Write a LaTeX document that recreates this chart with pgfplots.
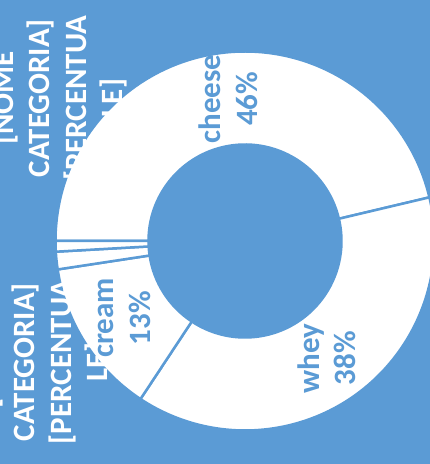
\documentclass[border=0pt]{standalone}
\usepackage{pgfplots}
\usepackage{pgfplotstable}
\pgfplotsset{compat=1.18}
\usepackage{fontspec}
\setmainfont{Carlito}
\definecolor{bg}{HTML}{5B9BD5}

\pgfplotstableread{
name value
cheese 46.3
whey 38.0
cream 13.3
otherA 1.5
otherB 0.9
}\piedata

\begin{document}
\begin{tikzpicture}
\tikzset{
  dlabel/.style={text=bg, align=center, rotate=90, inner sep=0pt,
    font=\fontsize{31}{36.5}\selectfont\bfseries},
  olabel/.style={text=white, align=center, rotate=90, inner sep=0pt,
    font=\fontsize{31}{36.5}\selectfont\bfseries},
}
\begin{axis}[
  scale only axis, width=430pt, height=464pt,
  xmin=0, xmax=430, ymin=0, ymax=464,
  axis lines=none, ticks=none,
  axis background/.style={fill=bg},
  clip=true, clip mode=global,
]
\coordinate (sw) at (rel axis cs:0,0);
\coordinate (ne) at (rel axis cs:1,1);
\def\cx{245}\def\cy{223}\def\R{189.5}\def\r{96.5}
\def\start{180}
\pgfplotstablegetrowsof{\piedata}
\pgfmathtruncatemacro{\n}{\pgfplotsretval-1}
\pgfplotsforeachungrouped \i in {0,...,\n}{%
  \pgfplotstablegetelem{\i}{value}\of\piedata
  \pgfmathsetmacro{\v}{\pgfplotsretval}%
  \pgfmathsetmacro{\en}{\start-3.6*\v}%
  \pgfmathsetmacro{\xa}{\cx+\R*cos(\start)}%
  \pgfmathsetmacro{\ya}{\cy+\R*sin(\start)}%
  \pgfmathsetmacro{\xb}{\cx+\r*cos(\en)}%
  \pgfmathsetmacro{\yb}{\cy+\r*sin(\en)}%
  \edef\cmd{\noexpand\fill[white, draw=bg, line width=2.5pt, line join=round]
    (axis cs:\xa,\ya) arc[start angle=\start, end angle=\en, radius=\R pt]
    -- (axis cs:\xb,\yb) arc[start angle=\en, end angle=\start, radius=\r pt] -- cycle;}%
  \cmd
  \let\start\en
}
% outside placeholder labels
\node[olabel] at (axis cs:59,366) {{[}NOME\\CATEGORIA{]}\\{[}PERCENTUA\\LE{]}};
\node[olabel] at (axis cs:44,102) {{[}NOME\\CATEGORIA{]}\\{[}PERCENTUA\\LE{]}};
% data labels
\def\start{180}
\pgfplotsforeachungrouped \i in {0,...,\n}{%
  \pgfplotstablegetelem{\i}{value}\of\piedata
  \pgfmathsetmacro{\v}{\pgfplotsretval}%
  \pgfplotstablegetelem{\i}{name}\of\piedata
  \edef\nm{\pgfplotsretval}%
  \pgfmathsetmacro{\en}{\start-3.6*\v}%
  \pgfmathsetmacro{\mid}{(\start+\en)/2}%
  \pgfmathsetmacro{\xm}{\cx+143*cos(\mid)}%
  \pgfmathsetmacro{\ym}{\cy+143*sin(\mid)}%
  \pgfmathtruncatemacro{\pc}{round(\v)}%
  \ifnum\i<3
    \edef\cmd{\noexpand\node[dlabel] at (axis cs:\xm,\ym) {\nm\noexpand\\\pc\noexpand\%};}%
    \cmd
  \fi
  \let\start\en
}
\end{axis}
\pgfresetboundingbox
\path[use as bounding box] (sw) rectangle (ne);
\end{tikzpicture}
\end{document}
